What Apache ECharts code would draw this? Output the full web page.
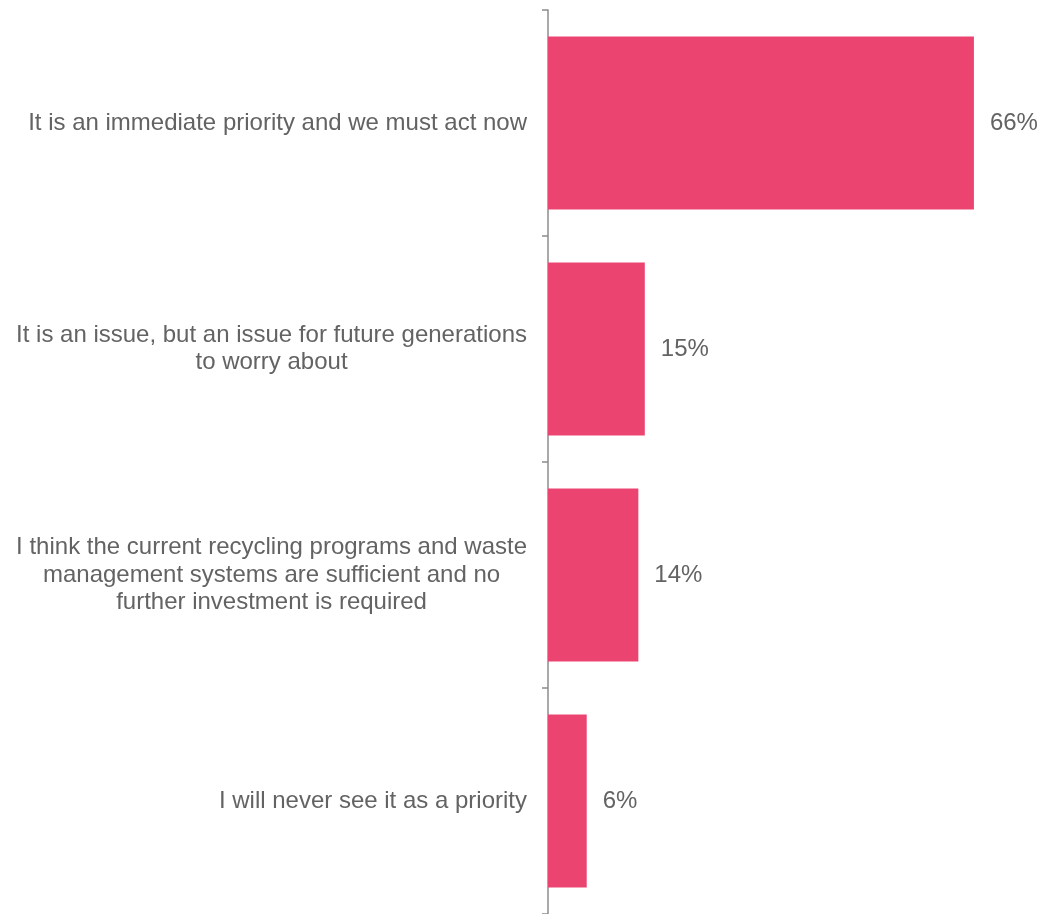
<!DOCTYPE html>
<html>
<head>
<meta charset="utf-8">
<script src="https://cdn.jsdelivr.net/npm/echarts@6/dist/echarts.min.js"></script>
<style>
  html, body { margin: 0; padding: 0; background: #ffffff; }
  #chart { width: 1057px; height: 914px; }
</style>
</head>
<body>
<div id="chart"></div>
<script>
// Survey answers, top to bottom
const categories = [
  'It is an immediate priority and we must act now',
  'It is an issue, but an issue for future generations\nto worry about',
  'I think the current recycling programs and waste\nmanagement systems are sufficient and no\nfurther investment is required',
  'I will never see it as a priority'
];
// Share of respondents (%)
const shares = [66, 15, 14, 6];

const FONT = '"Liberation Sans", Arial, sans-serif';
const TEXT_COLOR = '#636363';

const chart = echarts.init(document.getElementById('chart'));

chart.setOption({
  animation: false,
  grid: { left: 548, right: 25, top: 10, bottom: -1, containLabel: false },
  xAxis: {
    type: 'value',
    min: 0,
    max: 75,
    show: false
  },
  yAxis: {
    type: 'category',
    data: categories,
    inverse: true,
    axisLine: { show: true, lineStyle: { color: '#8c8c8c', width: 1.5 } },
    axisTick: { show: true, length: 6, lineStyle: { color: '#8c8c8c', width: 1.5 } },
    axisLabel: {
      margin: 21,
      fontFamily: FONT,
      fontSize: 24,
      color: TEXT_COLOR,
      lineHeight: 27.5,
      // each line centred within the right-anchored label block
      formatter: function (v) {
        return v.split('\n').map(function (l) { return '{c|' + l + '}'; }).join('\n');
      },
      rich: {
        c: {
          align: 'center',
          fontFamily: FONT,
          fontSize: 24,
          color: TEXT_COLOR,
          lineHeight: 27.5
        }
      }
    }
  },
  series: [{
    type: 'bar',
    data: shares,
    barCategoryGap: '23.5%',
    itemStyle: { color: '#eb4471' },
    label: {
      show: true,
      position: 'right',
      distance: 16,
      formatter: '{c}%',
      fontFamily: FONT,
      fontSize: 24,
      color: TEXT_COLOR
    }
  }]
});
</script>
</body>
</html>
